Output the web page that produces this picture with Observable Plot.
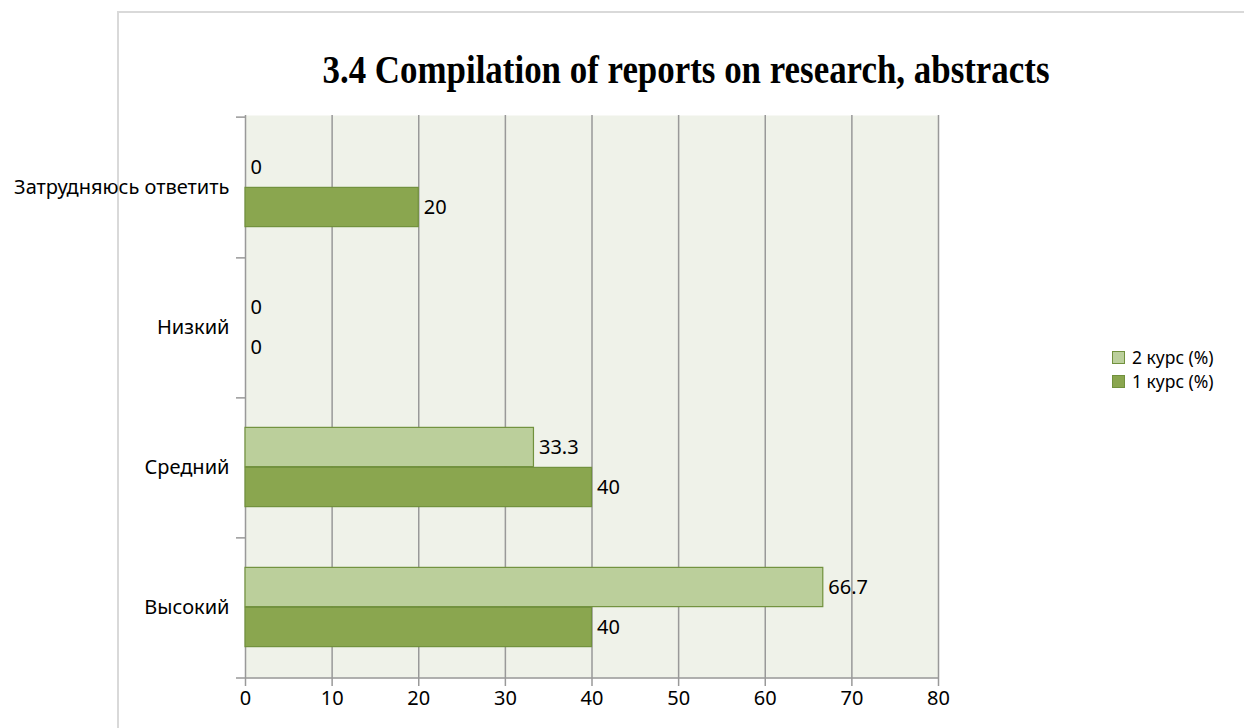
<!DOCTYPE html>
<html><head><meta charset="utf-8">
<script src="https://cdn.jsdelivr.net/npm/d3@7"></script>
<script src="https://cdn.jsdelivr.net/npm/@observablehq/plot@0.6"></script>
<style>
html,body{margin:0;padding:0;background:#fff;}
#wrap{position:relative;width:1244px;height:728px;overflow:hidden;}
#border{position:absolute;left:117px;top:11px;width:1200px;height:800px;border-left:2px solid #d9d9d9;border-top:2px solid #d9d9d9;}
#title{position:absolute;left:0;top:0;}
#chart{position:absolute;left:0;top:0;}
#legend{position:absolute;left:1112px;top:345px;font-family:"Noto Sans",sans-serif;font-size:17.5px;color:#000;}
.li{display:flex;align-items:center;height:24px;}
.li span{display:block;white-space:nowrap;}
.sw{width:13px;height:13px;margin-right:7px;box-sizing:border-box;border:1px solid #71913d;}
</style></head>
<body><div id="wrap"><div id="border"></div><div id="chart"></div>
<svg id="title" width="1244" height="120"><text x="686" y="83" text-anchor="middle" font-family="Liberation Serif" font-weight="bold" font-size="39" textLength="727" lengthAdjust="spacingAndGlyphs">3.4 Compilation of reports on research, abstracts</text></svg>
<div id="legend"></div></div>
<script>
const categories = ["Затрудняюсь ответить", "Низкий", "Средний", "Высокий"];
const course2 = [0, 0, 33.3, 66.7];
const course1 = [20, 0, 40, 40];
const seriesNames = ["2 курс (%)", "1 курс (%)"];
const xTicks = [0, 10, 20, 30, 40, 50, 60, 70, 80];
const colors = {light: "#bbcf9b", dark: "#8aa64f", stroke: "#71913d"};

const d2 = categories.map((c, i) => ({cat: c, v: course2[i]}));
const d1 = categories.map((c, i) => ({cat: c, v: course1[i]}));

const W = 1244, H = 728, mt = 115, mb = 50, ml = 245, mr = 306;
const band = (H - mt - mb) / categories.length;
const barH = 40;
const outer = band / 2 - barH;

const font = '"Noto Sans", sans-serif';
const fs = 20;
const chart = Plot.plot({
  width: W, height: H,
  marginTop: mt, marginBottom: mb, marginLeft: ml, marginRight: mr,
  style: {fontFamily: font, fontSize: fs + "px", color: "#000", background: "transparent"},
  x: {domain: [0, 80], ticks: xTicks},
  y: {domain: categories, padding: 0},
  marks: [
    Plot.frame({fill: "#eff2e9", stroke: null}),
    Plot.gridX(xTicks.slice(1), {stroke: "#999", strokeOpacity: 1, strokeWidth: 1.5}),
    Plot.ruleX([0], {stroke: "#999", strokeWidth: 1.5}),
    Plot.ruleY([categories[0]], {y: d => d, dy: -band / 2, x1: 0, x2: 0, insetLeft: -9, stroke: "#999", strokeWidth: 1.5}),
    Plot.ruleY(categories.slice(0, -1), {y: d => d, dy: band / 2, x1: 0, x2: 0, insetLeft: -9, stroke: "#999", strokeWidth: 1.5}),
    Plot.ruleY([categories[categories.length - 1]], {y: d => d, dy: band / 2, x1: 0, x2: 80, insetLeft: -9, stroke: "#999", strokeWidth: 1.5}),
    Plot.barX(d2, {y: "cat", x1: 0, x2: "v", insetTop: outer, insetBottom: band - outer - barH, fill: colors.light, stroke: colors.stroke, strokeWidth: 1.2}),
    Plot.barX(d1, {y: "cat", x1: 0, x2: "v", insetTop: band - outer - barH, insetBottom: outer, fill: colors.dark, stroke: colors.stroke, strokeWidth: 1.2}),
    Plot.text(d2, {y: "cat", x: "v", text: d => String(d.v), dy: -barH / 2, dx: 5, textAnchor: "start", fill: "#000", fontSize: fs}),
    Plot.text(d1, {y: "cat", x: "v", text: d => String(d.v), dy: barH / 2, dx: 5, textAnchor: "start", fill: "#000", fontSize: fs}),
    Plot.axisX(xTicks, {tickSize: 8, tickPadding: 4, stroke: "#999", strokeWidth: 1.5, fill: "#000", fontSize: fs, label: null}),
    Plot.axisY({tickSize: 0, tickPadding: 16, fill: "#000", fontSize: fs, label: null})
  ]
});
document.getElementById("chart").appendChild(chart);

const legend = document.getElementById("legend");
[[seriesNames[0], colors.light], [seriesNames[1], colors.dark]].forEach(([n, c]) => {
  const row = document.createElement("div"); row.className = "li";
  const sw = document.createElement("div"); sw.className = "sw"; sw.style.background = c;
  const t = document.createElement("span"); t.textContent = n;
  row.appendChild(sw); row.appendChild(t); legend.appendChild(row);
});
</script></body></html>
